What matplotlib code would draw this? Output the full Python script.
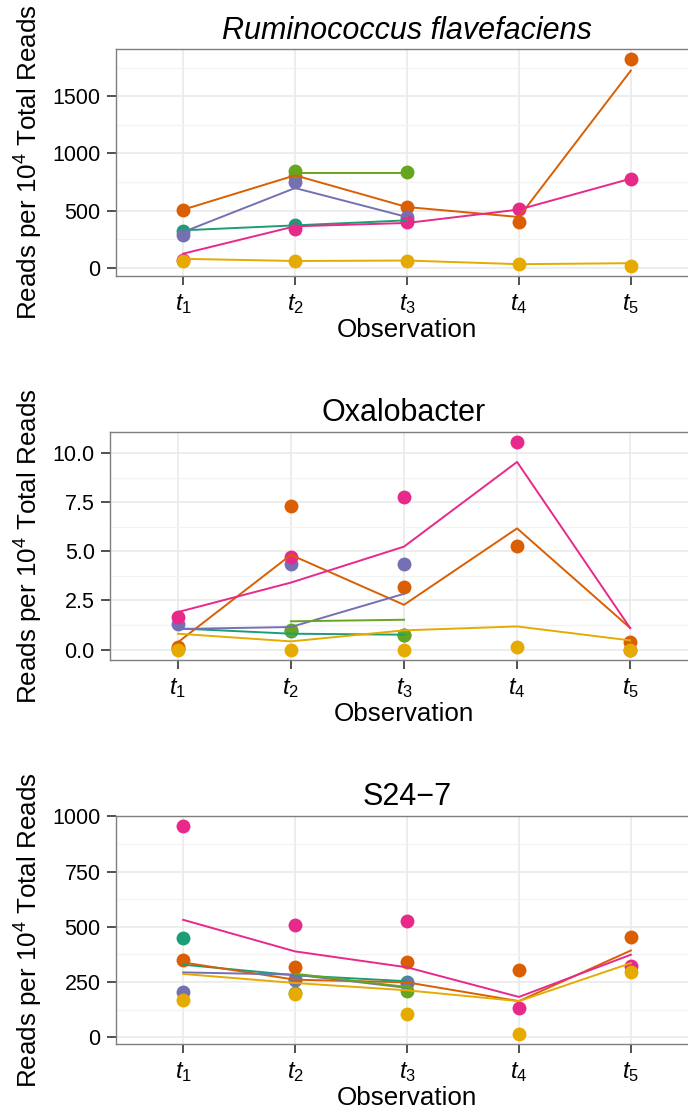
import matplotlib
matplotlib.use("Agg")
import matplotlib.pyplot as plt
import numpy as np
from matplotlib.ticker import MultipleLocator, FormatStrFormatter

plt.rcParams['font.family'] = ['Liberation Sans', 'DejaVu Sans']
plt.rcParams['mathtext.fontset'] = 'custom'
plt.rcParams['mathtext.rm'] = 'Liberation Sans'
plt.rcParams['mathtext.it'] = 'Liberation Sans:italic'

nan = np.nan

# Dark2 palette, one colour per subject
colors = ["#1B9E77", "#D95F02", "#7570B3", "#E7298A", "#66A61E", "#E6AB02"]
obs_labels = ["$t_1$", "$t_2$", "$t_3$", "$t_4$", "$t_5$"]

# Ruminococcus flavefaciens: observed reads (points) and fitted values (lines)
rum_points = [
    [320, 372, 420, nan, nan],
    [509, 800, 532, 401, 1822],
    [291, 754, 445, nan, nan],
    [67, 344, 401, 518, 780],
    [nan, 844, 834, nan, nan],
    [62, 60, 58, 32, 20],
]
rum_fit = [
    [329, 372, 416, nan, nan],
    [509, 809, 532, 445, 1724],
    [314, 698, 445, nan, nan],
    [125, 364, 393, 510, 780],
    [nan, 832, 832, nan, nan],
    [80, 61, 65, 33, 42],
]

# Oxalobacter
oxa_points = [
    [0.02, 0.95, 0.72, nan, nan],
    [0.14, 7.31, 3.18, 5.27, 0.37],
    [1.32, 4.36, 4.34, nan, nan],
    [1.66, 4.73, 7.77, 10.56, 0.0],
    [nan, 1.01, 0.76, nan, nan],
    [0.0, 0.0, 0.0, 0.12, 0.0],
]
oxa_fit = [
    [1.08, 0.81, 0.76, nan, nan],
    [0.37, 4.82, 2.28, 6.17, 1.1],
    [1.05, 1.15, 2.84, nan, nan],
    [1.91, 3.41, 5.24, 9.55, 1.1],
    [nan, 1.44, 1.52, nan, nan],
    [0.81, 0.42, 0.98, 1.18, 0.47],
]

# S24-7
s24_points = [
    [449, 262, 250, nan, nan],
    [351, 317, 341, 306, 452],
    [206, 261, 246, nan, nan],
    [956, 509, 528, 134, 321],
    [nan, 200, 209, nan, nan],
    [167, 197, 104, 17, 295],
]
s24_fit = [
    [329, 281, 254, nan, nan],
    [339, 261, 249, 164, 393],
    [294, 284, 224, nan, nan],
    [532, 389, 317, 183, 374],
    [nan, 288, 228, nan, nan],
    [287, 246, 213, 164, 336],
]

W, H = 688, 1112
fig = plt.figure(figsize=(W / 100, H / 100), dpi=100)


def panel(box, title, pts, fit, step, fmt, italic=False):
    left, top, right, bottom = box
    ax = fig.add_axes([left / W, 1 - bottom / H, (right - left) / W, (bottom - top) / H])
    x = np.arange(1, len(obs_labels) + 1)
    for i, c in enumerate(colors):
        ax.scatter(x, pts[i], s=100, color=c, linewidths=0, zorder=3)
    for i, c in enumerate(colors):
        ax.plot(x, fit[i], color=c, lw=1.4, zorder=4)
    ax.set_xlim(0.4, 5.6)
    ax.margins(y=0.05)
    ax.set_xticks(x)
    ax.set_xticklabels(obs_labels)
    ax.yaxis.set_major_locator(MultipleLocator(step))
    ax.yaxis.set_minor_locator(MultipleLocator(step / 2))
    ax.yaxis.set_major_formatter(FormatStrFormatter(fmt))
    ax.grid(which='major', color='#E8E8E8', lw=1.1, zorder=0)
    ax.grid(which='minor', axis='y', color='#F3F3F3', lw=0.9, zorder=0)
    ax.set_axisbelow(True)
    for s in ax.spines.values():
        s.set_color('#7F7F7F')
        s.set_linewidth(1.0)
    ax.tick_params(which='major', length=6.5, width=1.2, color='#333333',
                   labelsize=15.5, labelcolor='black', pad=4.5)
    ax.tick_params(axis='x', labelsize=17, pad=5)
    ax.tick_params(which='minor', length=0)
    ax.set_title(title, fontsize=22, pad=7.5, style='italic' if italic else 'normal')
    ax.set_xlabel("Observation", fontsize=18.7)
    ax.xaxis.set_label_coords(0.5, -42 / (bottom - top))
    ax.set_ylabel("Reads per 10$^4$ Total Reads", fontsize=18.7)
    ax.yaxis.set_label_coords((45 - left) / (right - left), 0.5)
    return ax


panel((116, 49, 698, 276), "Ruminococcus flavefaciens", rum_points, rum_fit, 500, '%d', italic=True)
panel((110, 431.7, 698, 660), "Oxalobacter", oxa_points, oxa_fit, 2.5, '%.1f')
panel((116, 815.7, 698, 1044), "S24\u22127", s24_points, s24_fit, 250, '%d')

fig.savefig("out.png", dpi=100)
